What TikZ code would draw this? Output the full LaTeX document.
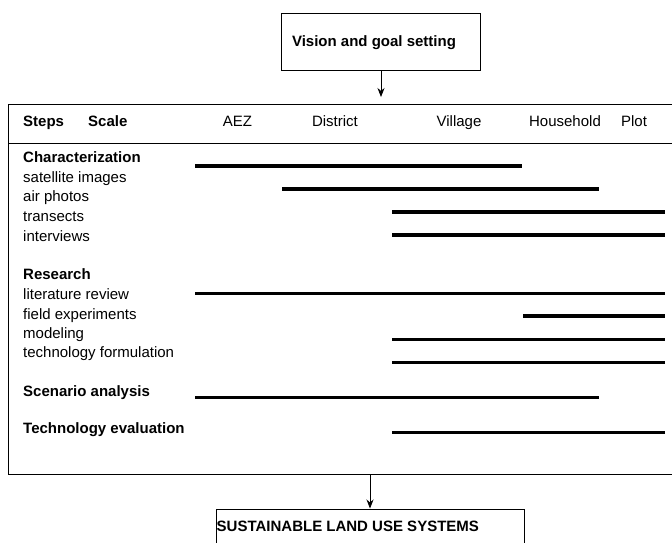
\documentclass[tikz,border=0pt]{standalone}
\usepackage{fontspec}
\setmainfont{Liberation Sans}
\usetikzlibrary{arrows.meta}
\begin{document}
\begin{tikzpicture}[x=1pt,y=-1pt,
  txt/.style={inner sep=0pt,font=\fontsize{15}{17}\selectfont,anchor=mid west,yshift=-2pt},
  btxt/.style={txt,font=\fontsize{15}{17}\selectfont\bfseries},
  hdr/.style={inner sep=0pt,font=\fontsize{15}{17}\selectfont,anchor=mid,yshift=-2pt},
  bar/.style={line width=3.2pt},
  boxline/.style={draw,line width=1pt,inner sep=0pt},
  arr/.style={line width=0.8pt,-{Stealth[length=9pt,width=7pt]}}]
\clip (0,0) rectangle (672,542);
\fill[white] (0,0) rectangle (672,542);
% top box
\node[boxline,minimum width=199pt,minimum height=57pt] (vision) at (381,41.5) {};
\node[btxt,anchor=mid] (visionlbl) at (374,42) {Vision and goal setting};
% main frame
\node[boxline,line width=1.2pt,minimum width=690pt,minimum height=370pt,anchor=north west] (frame) at (8,104) {};
\coordinate (hl) at (8,143);
\coordinate (hr) at (700,143);
\draw[line width=1pt] (hl) -- (hr);
% arrow top
\draw[arr,shorten >=7pt] (vision.south) -- (vision.south |- frame.north);
% bottom box
\node[boxline,minimum width=308pt,minimum height=70pt,anchor=north] (sls) at (370,508.5) {};
\node[btxt] (slslbl) at (216.5,527) {SUSTAINABLE LAND USE SYSTEMS};
\draw[arr] (sls.north |- frame.south) -- (sls.north);
% header
\node[btxt] (steps) at (23,122) {Steps};
\node[btxt] (scale) at (88,122) {Scale};
\node[hdr] (aez) at (237.5,122) {AEZ};
\node[hdr] (district) at (335,122) {District};
\node[hdr] (village) at (459,122) {Village};
\node[hdr] (household) at (565,122) {Household};
\node[hdr] (plot) at (634,122) {Plot};
% rows
\node[btxt] (char) at (23,158) {Characterization};
\node[txt] (sat) at (23,178) {satellite images};
\node[txt] (air) at (23,197) {air photos};
\node[txt] (tran) at (23,217) {transects};
\node[txt] (intv) at (23,236.5) {interviews};
\node[btxt] (res) at (23,275) {Research};
\node[txt] (lit) at (23,295) {literature review};
\node[txt] (field) at (23,314.5) {field experiments};
\node[txt] (model) at (23,334) {modeling};
\node[txt] (tech) at (23,353) {technology formulation};
\node[btxt] (scen) at (23,391.5) {Scenario analysis};
\node[btxt] (teval) at (23,429) {Technology evaluation};
% bars
\draw[bar] (195,166) -- (522,166);
\draw[bar] (282,189) -- (599,189);
\draw[bar] (392,212) -- (665,212);
\draw[bar] (392,235) -- (665,235);
\draw[bar] (195,293.5) -- (665,293.5);
\draw[bar] (523,316) -- (665,316);
\draw[bar] (392,339.5) -- (665,339.5);
\draw[bar] (392,362.5) -- (665,362.5);
\draw[bar] (195,397.5) -- (599,397.5);
\draw[bar] (392,432.5) -- (665,432.5);
\end{tikzpicture}
\end{document}
